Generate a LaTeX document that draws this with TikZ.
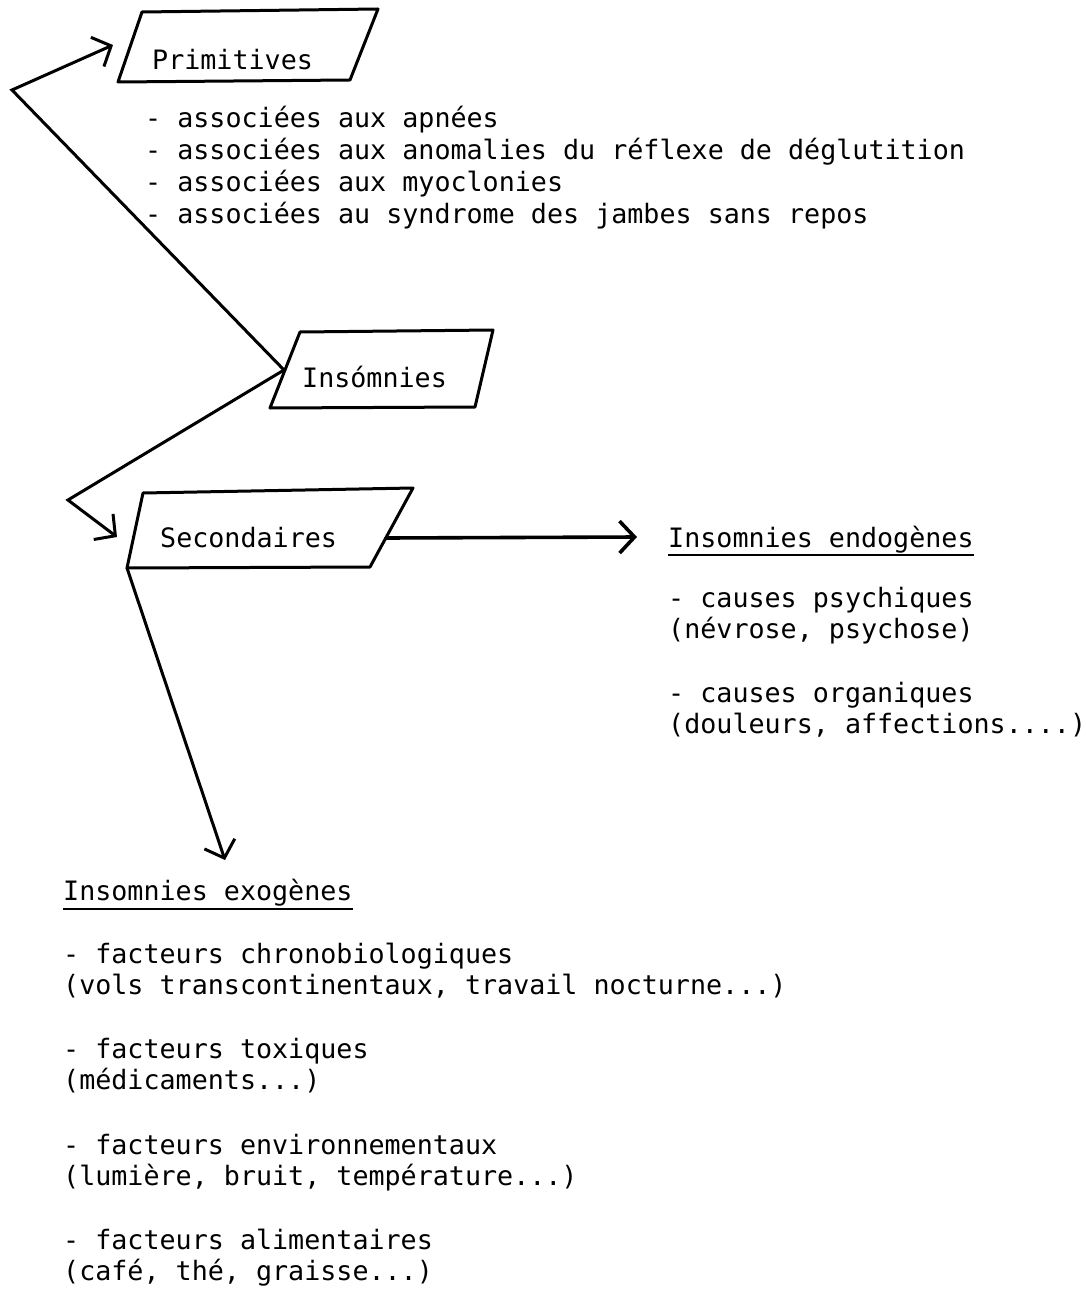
\documentclass[tikz,border=0pt]{standalone}
\usepackage{fontspec}
\setmainfont{DejaVu Sans Mono}
\usetikzlibrary{arrows.meta}
\begin{document}
\begin{tikzpicture}[x=1pt,y=-1pt,
  box/.style={line width=3pt, line join=round},
  conn/.style={line width=3pt, line join=miter, line cap=round},
  arr/.style={-{Straight Barb[length=15pt,width=32pt]}},
  txt/.style={anchor=base west, inner sep=0pt, font=\fontsize{26.7}{32}\selectfont},
  uline/.style={line width=1.8pt}]
\useasboundingbox (0,0) rectangle (1085,1297);

% Primitives box
\coordinate (p1) at (142,12);
\coordinate (p2) at (378,9);
\coordinate (p3) at (350,80);
\coordinate (p4) at (118,82);
\draw[box] (p1) -- (p2) -- (p3) -- (p4) -- cycle;
\node[txt] (prim) at (152,70) {Primitives};

% Insomnies box
\coordinate (i1) at (300,332);
\coordinate (i2) at (493,330);
\coordinate (i3) at (475,407);
\coordinate (i4) at (270,408);
\coordinate (iw) at (284,370);
\draw[box] (i1) -- (i2) -- (i3) -- (i4) -- cycle;
\node[txt] (ins) at (302,387) {Insómnies};

% Secondaires box
\coordinate (s1) at (143,493);
\coordinate (s2) at (413,488);
\coordinate (s3) at (370,567);
\coordinate (s4) at (127,568);
\coordinate (se) at (386,538);
\draw[box] (s1) -- (s2) -- (s3) -- (s4) -- cycle;
\node[txt] (sec) at (160,547) {Secondaires};

% connectors
\coordinate (v1) at (12,90);
\coordinate (ptip) at (113,45);
\draw[conn,arr] (iw) -- (v1) -- (ptip);
\coordinate (v2) at (68,500);
\coordinate (stip) at (117,537);
\draw[conn,arr] (iw) -- (v2) -- (stip);
\coordinate (etip) at (637,537);
\draw[conn,arr,line width=3.6pt] (se) -- (etip);
\coordinate (xtip) at (225,860);
\draw[conn,arr] (s4) -- (xtip);

% Primitives list
\node[txt] (pa) at (145,128) {- associées aux apnées};
\node[txt] (pb) at (145,160) {- associées aux anomalies du réflexe de déglutition};
\node[txt] (pc) at (145,192) {- associées aux myoclonies};
\node[txt] (pd) at (145,224) {- associées au syndrome des jambes sans repos};

% Endogenes
\node[txt] (endo) at (668,547) {Insomnies endogènes};
\draw[uline] ([yshift=-8pt]endo.base west) -- ([yshift=-8pt]endo.base east);
\node[txt] (ea) at (668,607) {- causes psychiques};
\node[txt] (eb) at (668,638) {(névrose, psychose)};
\node[txt] (ec) at (668,702) {- causes organiques};
\node[txt] (ed) at (668,733) {(douleurs, affections....)};

% Exogenes
\node[txt] (exo) at (63,900) {Insomnies exogènes};
\draw[uline] ([yshift=-9pt]exo.base west) -- ([yshift=-9pt]exo.base east);
\node[txt] (xa) at (63,963) {- facteurs chronobiologiques};
\node[txt] (xb) at (63,994) {(vols transcontinentaux, travail nocturne...)};
\node[txt] (xc) at (63,1058) {- facteurs toxiques};
\node[txt] (xd) at (63,1089) {(médicaments...)};
\node[txt] (xe) at (63,1154) {- facteurs environnementaux};
\node[txt] (xf) at (63,1185) {(lumière, bruit, température...)};
\node[txt] (xg) at (63,1249) {- facteurs alimentaires};
\node[txt] (xh) at (63,1280) {(café, thé, graisse...)};
\end{tikzpicture}
\end{document}
